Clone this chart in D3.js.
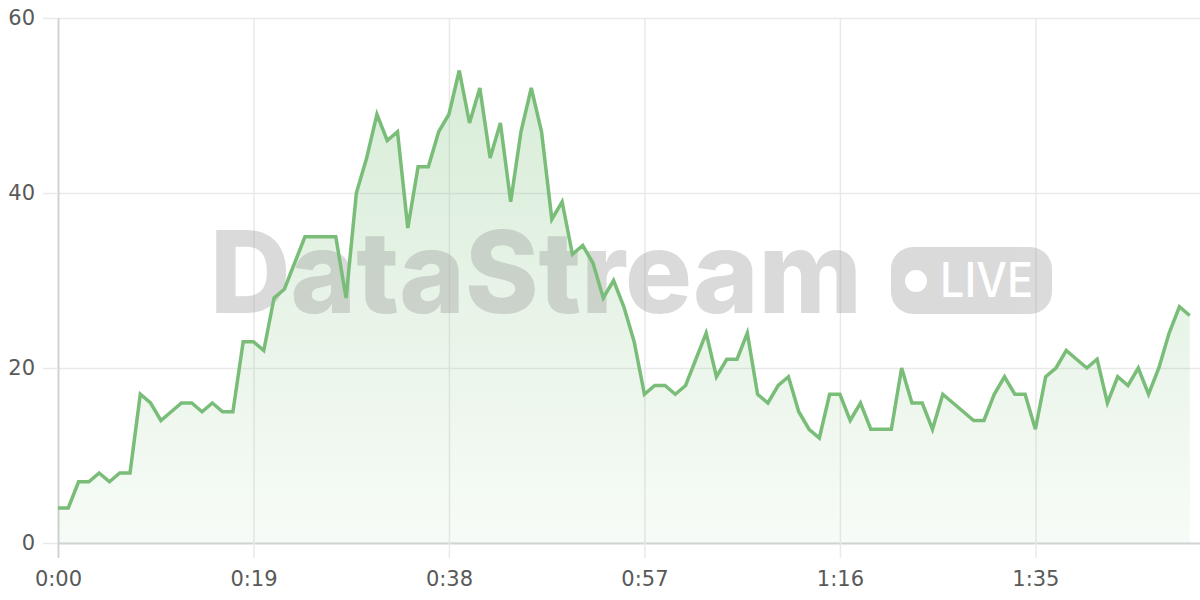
<!DOCTYPE html>
<html>
<head>
<meta charset="utf-8">
<script src="https://cdn.jsdelivr.net/npm/d3@7"></script>
<style>
  html, body { margin: 0; padding: 0; background: #fff; }
  svg { display: block; }
</style>
</head>
<body>
<svg id="chart" width="1200" height="600"></svg>
<script>
// ---- data ----
const seconds = d3.range(0, 111);
const values = [4,4,7,7,8,7,8,8,17,16,14,15,16,16,15,16,15,15,23,23,22,28,29,32,35,35,35,35,28,40,
  44,49,46,47,36,43,43,47,49,54,48,52,44,48,39,47,52,47,37,39,33,34,32,28,30,27,23,17,18,18,
  17,18,21,24,19,21,21,24,17,16,18,19,15,13,12,17,17,14,16,13,13,13,20,16,16,13,17,16,15,14,
  14,17,19,17,17,13,19,20,22,21,20,21,16,19,18,20,17,20,24,27,26];
const xTicks = [0, 19, 38, 57, 76, 95];
const yTicks = [0, 20, 40, 60];
const watermarkTitle = "DataStream";
const watermarkBadge = "LIVE";

const data = seconds.map((s, i) => ({ s, v: values[i] }));

// ---- layout ----
const mLeft = 58, mRight = 1200, mTop = 18, mBottom = 543;
const svg = d3.select("#chart");
const x = d3.scaleLinear().domain([0, 111]).range([mLeft, mRight]);
const y = d3.scaleLinear().domain([0, 60]).range([mBottom, mTop]);
const fmt = s => Math.floor(s / 60) + ":" + String(s % 60).padStart(2, "0");

// gradient
const defs = svg.append("defs");
const grad = defs.append("linearGradient").attr("id", "areaGrad")
  .attr("gradientUnits", "userSpaceOnUse")
  .attr("x1", 0).attr("x2", 0).attr("y1", mTop).attr("y2", mBottom);
grad.append("stop").attr("offset", 0).attr("stop-color", "#7abf7a").attr("stop-opacity", 0.32);
grad.append("stop").attr("offset", 1).attr("stop-color", "#7abf7a").attr("stop-opacity", 0.06);

// grid lines
const yGrid = svg.append("g").attr("transform", `translate(${mLeft},0)`)
  .call(d3.axisLeft(y).tickValues(yTicks).tickSize(-(mRight - mLeft)).tickFormat(""));
yGrid.select(".domain").remove();
yGrid.selectAll("line").attr("stroke", d => d === 0 ? "#d2d2d2" : "#e9e9e9")
  .attr("stroke-width", d => d === 0 ? 2 : 1.5);

const xGrid = svg.append("g").attr("transform", `translate(0,${mTop})`)
  .call(d3.axisBottom(x).tickValues(xTicks).tickSize(mBottom - mTop).tickFormat(""));
xGrid.select(".domain").remove();
xGrid.selectAll("line").attr("stroke", d => d === 0 ? "#d2d2d2" : "#e9e9e9")
  .attr("stroke-width", d => d === 0 ? 2 : 1.5);

// axes with labels
const yAxis = svg.append("g").attr("transform", `translate(${mLeft},0)`)
  .call(d3.axisLeft(y).tickValues(yTicks).tickSize(15).tickPadding(8));
yAxis.select(".domain").remove();
yAxis.selectAll("line").attr("stroke", "#e9e9e9").attr("stroke-width", 1.5);
yAxis.selectAll("text").attr("font-family", "DejaVu Sans").attr("font-size", 21).attr("fill", "#595959");

const xAxis = svg.append("g").attr("transform", `translate(0,${mBottom})`)
  .call(d3.axisBottom(x).tickValues(xTicks).tickFormat(fmt).tickSize(15).tickPadding(13));
xAxis.select(".domain").remove();
xAxis.selectAll("line").attr("stroke", d => d === 0 ? "#d2d2d2" : "#e9e9e9")
  .attr("stroke-width", d => d === 0 ? 2 : 1.5);
xAxis.selectAll("text").attr("font-family", "DejaVu Sans").attr("font-size", 21).attr("fill", "#595959");

// area
svg.append("path").datum(data)
  .attr("fill", "url(#areaGrad)")
  .attr("d", d3.area().x(d => x(d.s)).y0(y(0)).y1(d => y(d.v)));

// watermark
const wm = svg.append("g").attr("opacity", 0.36);
wm.append("text").text(watermarkTitle)
  .attr("x", 210).attr("y", 313)
  .attr("font-family", "Inter").attr("font-weight", 800).attr("font-size", 114)
  .attr("textLength", 652).attr("lengthAdjust", "spacingAndGlyphs")
  .attr("fill", "#9a9a9a");
wm.append("rect").attr("x", 891).attr("y", 247).attr("width", 161).attr("height", 67)
  .attr("rx", 22).attr("fill", "#9a9a9a");
svg.append("circle").attr("cx", 916).attr("cy", 281).attr("r", 11).attr("fill", "#fff");
svg.append("text").text(watermarkBadge)
  .attr("x", 940).attr("y", 297)
  .attr("font-family", "Inter").attr("font-weight", 500).attr("font-size", 48)
  .attr("textLength", 93).attr("lengthAdjust", "spacingAndGlyphs")
  .attr("fill", "#fff");

// line
svg.append("path").datum(data)
  .attr("fill", "none").attr("stroke", "#79bd79").attr("stroke-width", 3.5)
  .attr("stroke-linejoin", "miter")
  .attr("d", d3.line().x(d => x(d.s)).y(d => y(d.v)));
</script>
</body>
</html>
